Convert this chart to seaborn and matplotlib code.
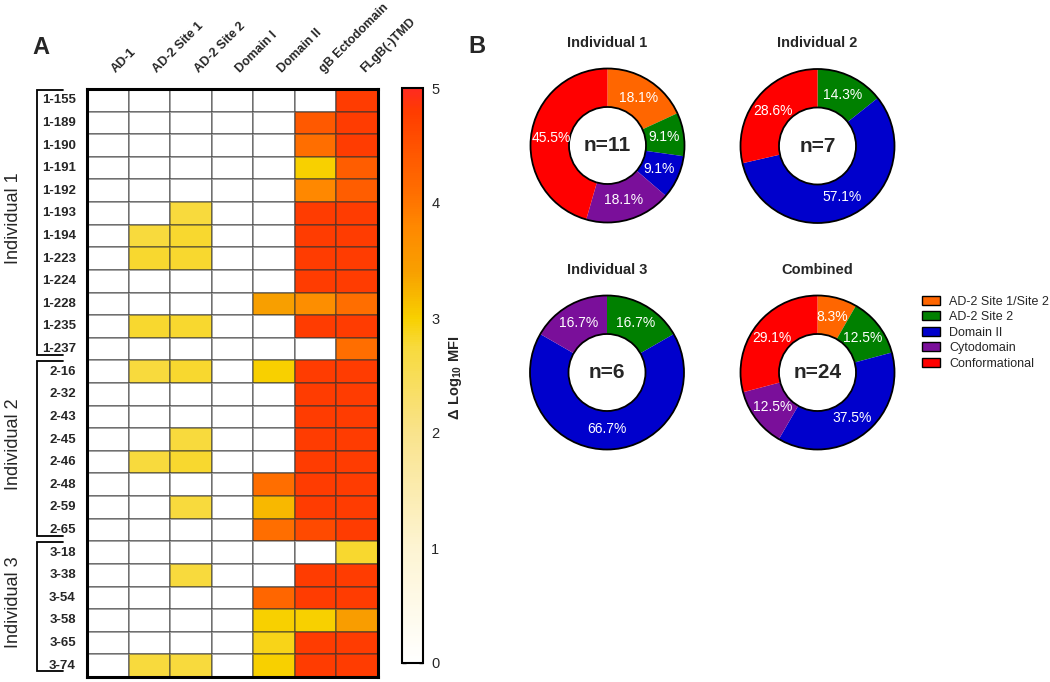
import numpy as np
import pandas as pd
import matplotlib
matplotlib.use("Agg")
import matplotlib.pyplot as plt
import seaborn as sns
from matplotlib.colors import LinearSegmentedColormap
from matplotlib.patches import Patch, Circle
from matplotlib.transforms import blended_transform_factory

# ---------------- data ----------------
antigens = ["AD-1", "AD-2 Site 1", "AD-2 Site 2", "Domain I", "Domain II",
            "gB Ectodomain", "FLgB(-)TMD"]
mabs = ["1-155", "1-189", "1-190", "1-191", "1-192", "1-193", "1-194", "1-223",
        "1-224", "1-228", "1-235", "1-237",
        "2-16", "2-32", "2-43", "2-45", "2-46", "2-48", "2-59", "2-65",
        "3-18", "3-38", "3-54", "3-58", "3-65", "3-74"]
delta_log_mfi = [
    [0, 0, 0, 0, 0, 0, 4.8],
    [0, 0, 0, 0, 0, 4.4, 4.8],
    [0, 0, 0, 0, 0, 4.1, 4.8],
    [0, 0, 0, 0, 0, 3.0, 4.35],
    [0, 0, 0, 0, 0, 3.8, 4.35],
    [0, 0, 2.75, 0, 0, 4.8, 4.8],
    [0, 2.75, 2.8, 0, 0, 4.8, 4.8],
    [0, 2.8, 2.8, 0, 0, 4.8, 4.8],
    [0, 0, 0, 0, 0, 4.8, 4.8],
    [0, 0, 0, 0, 3.4, 3.7, 4.1],
    [0, 2.8, 2.8, 0, 0, 4.8, 4.8],
    [0, 0, 0, 0, 0, 0, 4.1],
    [0, 2.75, 2.8, 0, 3.0, 4.8, 4.8],
    [0, 0, 0, 0, 0, 4.8, 4.8],
    [0, 0, 0, 0, 0, 4.8, 4.8],
    [0, 0, 2.75, 0, 0, 4.8, 4.8],
    [0, 2.75, 2.8, 0, 0, 4.8, 4.8],
    [0, 0, 0, 0, 4.1, 4.8, 4.8],
    [0, 0, 2.75, 0, 3.2, 4.8, 4.8],
    [0, 0, 0, 0, 4.1, 4.6, 4.8],
    [0, 0, 0, 0, 0, 0, 2.8],
    [0, 0, 2.75, 0, 0, 4.8, 4.8],
    [0, 0, 0, 0, 4.2, 4.8, 4.8],
    [0, 0, 0, 0, 3.0, 3.0, 3.45],
    [0, 0, 0, 0, 2.9, 4.8, 4.8],
    [0, 2.75, 2.75, 0, 3.0, 4.8, 4.8],
]
groups = ["Individual 1", "Individual 2", "Individual 3"]
group_sizes = [12, 8, 6]

categories = ["AD-2 Site 1/Site 2", "AD-2 Site 2", "Domain II", "Cytodomain",
              "Conformational"]
cat_colors = ["#ff6600", "#008000", "#0000cc", "#7a0f9a", "#ff0000"]
donut_titles = ["Individual 1", "Individual 2", "Individual 3", "Combined"]
donut_n = ["n=11", "n=7", "n=6", "n=24"]
pct_ind1 = [18.1, 9.1, 9.1, 18.1, 45.5]
pct_ind2 = [0, 14.3, 57.1, 0, 28.6]
pct_ind3 = [0, 16.7, 66.7, 16.7, 0]
pct_comb = [8.3, 12.5, 37.5, 12.5, 29.1]

# ---------------- style ----------------
sns.set_style("white")
plt.rcParams["font.family"] = ["Liberation Sans", "DejaVu Sans"]
plt.rcParams["mathtext.fontset"] = "custom"
plt.rcParams["mathtext.rm"] = "Liberation Sans"
plt.rcParams["mathtext.bf"] = "Liberation Sans:bold"

W, H = 1050, 682
fig = plt.figure(figsize=(W / 100, H / 100), dpi=100)


def px_axes(x0, y0, x1, y1):
    return fig.add_axes([x0 / W, 1 - y1 / H, (x1 - x0) / W, (y1 - y0) / H])


# ---------------- heatmap ----------------
stops = [(0, "#ffffff"), (1.0, "#fdf4d2"), (2.0, "#f9e38c"), (2.75, "#f8da3c"),
         (3.0, "#f8d000"), (3.4, "#f8a000"), (3.8, "#ff8800"), (4.1, "#ff6e00"),
         (4.4, "#ff5a00"), (4.8, "#ff3c00"), (5.0, "#ff2a20")]
cmap = LinearSegmentedColormap.from_list("mfi", [(v / 5, c) for v, c in stops])

df = pd.DataFrame(delta_log_mfi, index=mabs, columns=antigens)

ax = px_axes(87, 89, 378, 677)
cax = px_axes(402, 88, 423, 663)
sns.heatmap(df, ax=ax, cmap=cmap, vmin=0, vmax=5, cbar_ax=cax,
            linewidths=1.2, linecolor=(0.2, 0.2, 0.2, 0.45),
            xticklabels=False, yticklabels=True)
for sp in ax.spines.values():
    sp.set_visible(True)
    sp.set_linewidth(2.2)
    sp.set_color("black")
ax.set_ylabel("")
ax.set_xlabel("")
ax.tick_params(axis="y", length=0, pad=8, labelsize=9.5)
for t in ax.get_yticklabels():
    t.set_fontweight("bold")
    t.set_rotation(0)

# column labels
tr_top = blended_transform_factory(ax.transData, ax.transAxes)
for j, name in enumerate(antigens):
    ax.text(j + 0.74, 1.024, name, transform=tr_top, rotation=45,
            rotation_mode="anchor", ha="left", va="bottom",
            fontsize=9.0, fontweight="bold")

# group brackets
tr_left = blended_transform_factory(ax.transAxes, ax.transData)
xa = (37 - 87) / 291
xb = (63 - 87) / 291
xl = (14 - 87) / 291
start = 0
for g, size in zip(groups, group_sizes):
    top = start + 0.03
    bot = start + size - 0.25
    ax.plot([xb, xa, xa, xb], [top, top, bot, bot], color="black", lw=1.3,
            transform=tr_left, clip_on=False, solid_joinstyle="miter")
    ax.text(xl, start + size / 2 - 0.3, g, transform=tr_left, rotation=90,
            ha="center", va="center", fontsize=13)
    start += size

# colorbar
cb = ax.collections[0].colorbar
cb.outline.set_linewidth(1.5)
cb.outline.set_edgecolor("black")
cb.set_ticks([0, 1, 2, 3, 4, 5])
cax.tick_params(direction="in", left=True, right=True, labelleft=False,
                labelright=True, length=3, width=1, labelsize=10.5, pad=6)
fig.text(455 / W, 1 - 378 / H, r"$\mathbf{\Delta\ Log_{10}\ MFI}$",
         rotation=90, ha="center", va="center", fontsize=10.5)

# panel letters
fig.text(32 / W, 1 - 54 / H, "A", fontsize=17, fontweight="bold",
         ha="left", va="baseline")
fig.text(468 / W, 1 - 53 / H, "B", fontsize=17, fontweight="bold",
         ha="left", va="baseline")

# ---------------- donuts ----------------
R = 77
centers = [(607.5, 145.5), (817.5, 146), (607, 372.5), (817.5, 372.5)]
title_y = [43, 43, 270, 270]
all_pcts = [pct_ind1, pct_ind2, pct_ind3, pct_comb]
lim = 1.12
for (cx, cy), title, ty, n, pcts in zip(centers, donut_titles, title_y,
                                         donut_n, all_pcts):
    half = R * lim
    dax = px_axes(cx - half, cy - half, cx + half, cy + half)
    vals = [v for v in pcts if v > 0]
    cols = [c for v, c in zip(pcts, cat_colors) if v > 0]
    labs = ["%.1f%%" % v for v in vals]
    wedges, texts = dax.pie(vals, colors=cols, startangle=90,
                            counterclock=False, radius=1.0,
                            labels=labs, labeldistance=0.74,
                            wedgeprops=dict(width=0.5, edgecolor="none",
                                            linewidth=0),
                            textprops=dict(color="white", fontsize=10))
    for t in texts:
        t.set_ha("center")
        t.set_va("center")
    dax.add_patch(Circle((0, 0), 1.0, fill=False, ec="black", lw=1.3))
    dax.add_patch(Circle((0, 0), 0.5, fill=False, ec="black", lw=1.3))
    dax.text(0, 0, n, ha="center", va="center", fontsize=15,
             fontweight="bold")
    dax.set_xlim(-lim, lim)
    dax.set_ylim(-lim, lim)
    dax.set_aspect("equal")
    dax.axis("off")
    fig.text(cx / W, 1 - ty / H, title, ha="center", va="center",
             fontsize=10.5, fontweight="bold")

handles = [Patch(facecolor=c, edgecolor="black", linewidth=1.0, label=l)
           for l, c in zip(categories, cat_colors)]
fig.legend(handles=handles, loc="upper left",
           bbox_to_anchor=(918 / W, 1 - 292 / H), frameon=False,
           fontsize=9, handlelength=1.45, handleheight=0.75,
           handletextpad=0.75, labelspacing=0.28, borderaxespad=0,
           borderpad=0.3)

fig.savefig("out.png", dpi=100)
